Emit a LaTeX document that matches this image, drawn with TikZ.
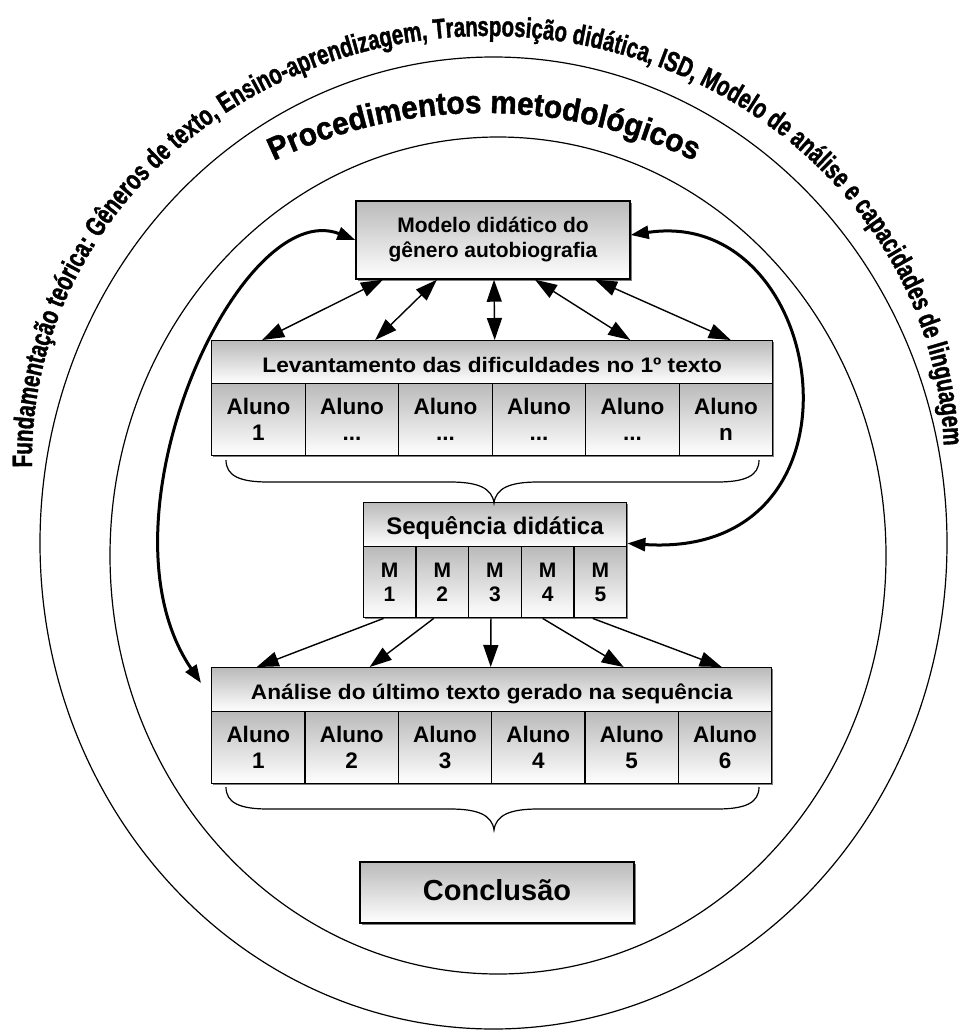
\documentclass[tikz,border=0pt]{standalone}
\usepackage{fontspec}
\setmainfont{Liberation Sans}
\newfontfamily\arcfont[FakeStretch=0.73,FakeBold=1.3]{Liberation Sans}
\newfontfamily\procfont[FakeStretch=0.93,FakeBold=1.4]{Liberation Sans}
\newfontfamily\widefont[FakeStretch=1.08]{Liberation Sans}
\usetikzlibrary{arrows.meta,decorations.text,shadows,calc}
\definecolor{boxtop}{RGB}{186,186,186}
\definecolor{shadowgray}{RGB}{125,125,125}
\newcommand{\threedots}{...}

\begin{document}
\begin{tikzpicture}[x=1pt,y=1pt,
  ring/.style={draw=black,line width=1.2pt},
  panel/.style={draw=black,line width=1.4pt,top color=boxtop,bottom color=white,
    inner sep=0pt,align=center,
    drop shadow={shadow xshift=1.5pt,shadow yshift=-1.5pt,fill=shadowgray,opacity=1}},
  headbox/.style={panel,anchor=north west,text height=20pt,text depth=0pt,
    font=\widefont\bfseries\fontsize{21}{24}\selectfont},
  cellbox/.style={panel,anchor=north west,font=\bfseries\fontsize{22.5}{26}\selectfont},
  mbox/.style={panel,anchor=north west,font=\bfseries\fontsize{21}{24}\selectfont},
  twoway/.style={line width=1.4pt,{Triangle[length=22pt,width=15pt]}-{Triangle[length=22pt,width=15pt]}},
  oneway/.style={line width=1.4pt,-{Triangle[length=22pt,width=15pt]}},
  loopback/.style={line width=3pt,{Triangle[length=18pt,width=13pt]}-{Triangle[length=18pt,width=13pt]}},
  bracepath/.style={line width=1.2pt}
]

\useasboundingbox (0,0) rectangle (979,-1030);
\fill[white] (0,0) rectangle (979,-1030);

% the two rings
\draw[ring] (493.5,-543) ellipse [x radius=453.5, y radius=486];
\draw[ring] (498,-555.5) ellipse [x radius=388, y radius=418.5];

% caption around the outer ring
\path[decorate,decoration={text along path,text align=fit to path,
  text={|\arcfont\bfseries\fontsize{28}{32}\selectfont|Fundamentação teórica: Gêneros de texto, Ensino-aprendizagem, Transposição didática, ISD, Modelo de análise e capacidades de linguagem}}]
  (488,-460) ++(181:456 and 424) arc[start angle=181,end angle=3,x radius=456,y radius=424];

% caption inside the outer ring
\path[decorate,decoration={text along path,text align=center,
  text={|\procfont\bfseries\fontsize{32}{36}\selectfont|Procedimentos metodológicos}}]
  (484,-599) ++(118:486) arc[start angle=118,end angle=62,radius=486];

% model
\node[panel,minimum width=274pt,minimum height=78pt,
  font=\bfseries\fontsize{21}{25}\selectfont] (model) at (493,-240)
  {Modelo didático do\\gênero autobiografia};

% first survey
\node[headbox,minimum width=561pt,minimum height=43pt] (lev) at (211,-340)
  {Levantamento das dificuldades no 1º texto};
\foreach \i/\t in {1/1,2/\threedots,3/\threedots,4/\threedots,5/\threedots,6/n}
  \node[cellbox,minimum width=93.5pt,minimum height=72pt] (lc\i)
    at ({211+(\i-1)*93.5},-383) {Aluno\\\t};

% teaching sequence
\node[headbox,minimum width=263.5pt,minimum height=44pt,
  font=\bfseries\fontsize{24}{28}\selectfont] (seq) at (362.5,-502) {Sequência didática};
\foreach \i in {1,2,3,4,5}
  \node[mbox,minimum width=52.7pt,minimum height=71pt] (sc\i)
    at ({362.5+(\i-1)*52.7},-546) {M\\\i};

% final analysis
\node[headbox,minimum width=560pt,minimum height=44pt] (ana) at (211,-667)
  {Análise do último texto gerado na sequência};
\foreach \i in {1,2,3,4,5,6}
  \node[cellbox,minimum width=93.33pt,minimum height=72pt] (ac\i)
    at ({211+(\i-1)*93.33},-711) {Aluno\\\i};

% conclusion
\node[panel,minimum width=274pt,minimum height=61pt,text height=15pt,text depth=0pt,
  font=\bfseries\fontsize{29}{32}\selectfont] (conc) at (497,-892.5) {Conclusão};

% braces under the student rows
\foreach \dy in {0pt,-327pt}
  \draw[bracepath,yshift=\dy] (226,-460) .. controls (226,-476) and (240,-482) .. (268,-482)
    -- (450,-482) .. controls (478,-482) and (492,-488) .. (494,-503)
    .. controls (496,-488) and (510,-482) .. (538,-482)
    -- (717,-482) .. controls (745,-482) and (759,-476) .. (759,-460);

% model <-> first survey
\draw[twoway] ([xshift=-230pt]lev.north) -- ([xshift=-110pt]model.south);
\draw[twoway] ([xshift=-117pt]lev.north) -- ([xshift=-56pt]model.south);
\draw[twoway] ([xshift=2.5pt]lev.north) -- ([xshift=1pt]model.south);
\draw[twoway] ([xshift=138pt]lev.north) -- ([xshift=42pt]model.south);
\draw[twoway] ([xshift=238.5pt]lev.north) -- ([xshift=102pt]model.south);

% modules -> final analysis
\draw[oneway] ([xshift=-6pt]sc1.south) -- ([xshift=-235pt]ana.north);
\draw[oneway] ([xshift=-8.5pt]sc2.south) -- ([xshift=-122pt]ana.north);
\draw[oneway] ([xshift=-4pt]sc3.south) -- ([xshift=-1pt]ana.north);
\draw[oneway] ([xshift=-5pt]sc4.south) -- ([xshift=132pt]ana.north);
\draw[oneway] ([xshift=-7.6pt]sc5.south) -- ([xshift=230pt]ana.north);

% long loops from the model
\coordinate (lefttip) at ([shift={(-10pt,-16pt)}]ana.north west);
\draw[loopback] (model.west) .. controls (240,-195) and (90,-520) .. (lefttip);
\draw[loopback] ([yshift=5pt]model.east) .. controls (830,-205) and (880,-560) .. ([yshift=4pt]seq.south east);

\end{tikzpicture}
\end{document}
